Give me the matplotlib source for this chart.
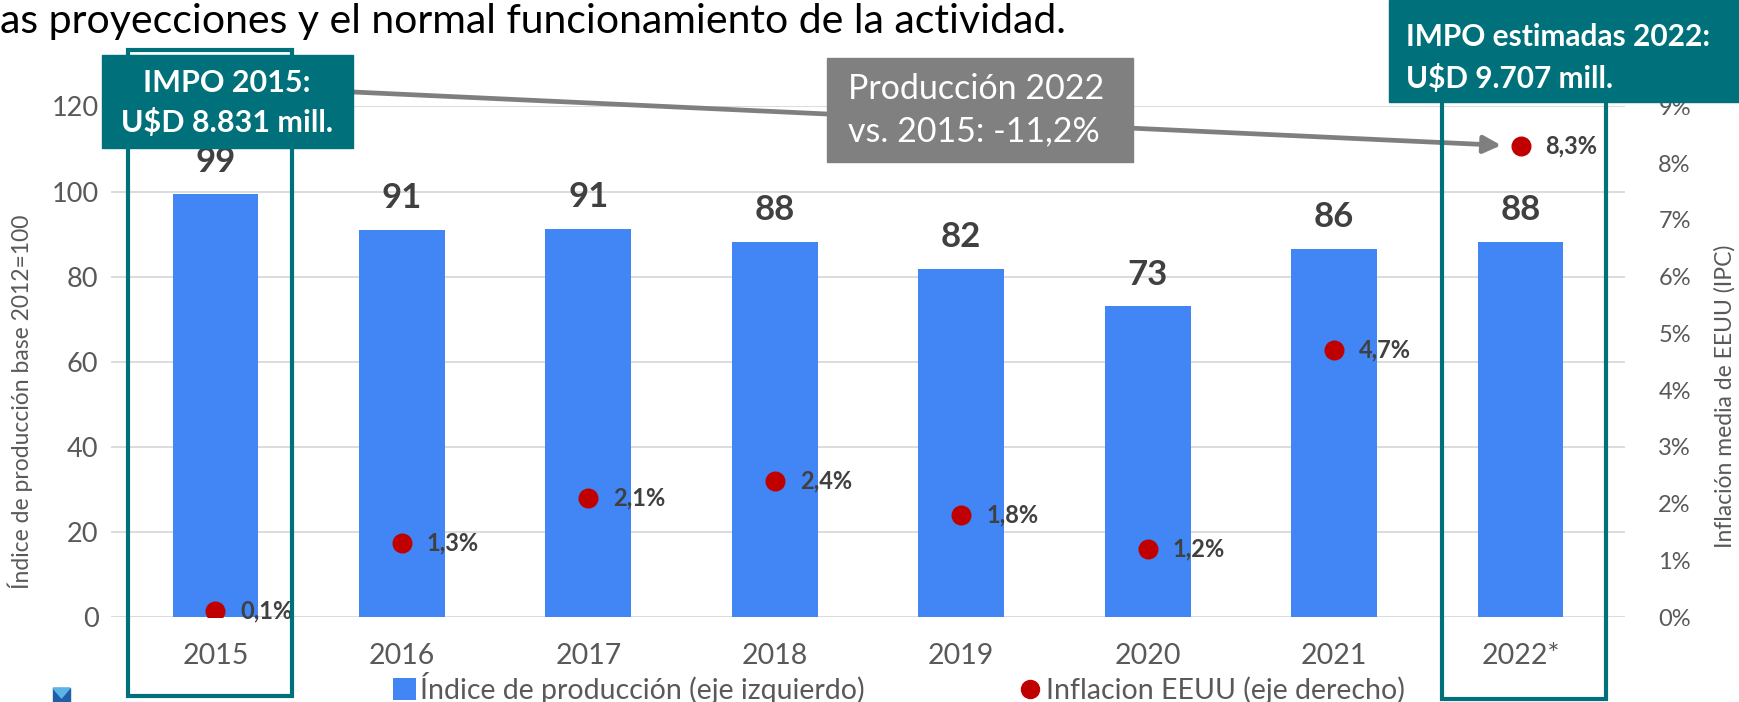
import matplotlib
matplotlib.use("Agg")
import matplotlib.pyplot as plt
import matplotlib.transforms as mtransforms
from matplotlib.patches import Rectangle, Polygon, Patch
from matplotlib.lines import Line2D

plt.rcParams['font.family'] = ['Lato', 'DejaVu Sans']

# --- data ---
years = ["2015", "2016", "2017", "2018", "2019", "2020", "2021", "2022*"]
produccion = [99.4, 91.0, 91.3, 88.2, 81.7, 73.0, 86.4, 88.2]
prod_labels = ["99", "91", "91", "88", "82", "73", "86", "88"]
inflacion = [0.1, 1.3, 2.1, 2.4, 1.8, 1.2, 4.7, 8.3]
infl_labels = ["0,1%", "1,3%", "2,1%", "2,4%", "1,8%", "1,2%", "4,7%", "8,3%"]
left_ticks = [0, 20, 40, 60, 80, 100, 120]
right_ticks = [0, 1, 2, 3, 4, 5, 6, 7, 8, 9]

BLUE = "#4285F4"
RED = "#C00000"
TEAL = "#00707A"
GRAY_TXT = "#595959"
DARK = "#404040"

W, H = 1739, 702
fig = plt.figure(figsize=(W / 100, H / 100), dpi=100)


def fx(px):
    return px / W


def fy(py):  # py measured from top
    return 1 - py / H


ax = fig.add_axes([fx(111), fy(617), fx(1625 - 111), (617 - 106.5) / H])
ax2 = ax.twinx()

x = list(range(len(years)))
bars = ax.bar(x, produccion, width=0.46, color=BLUE, zorder=2)
ax.set_xlim(-0.56, 7.56)
ax.set_ylim(0, 120)
ax.set_yticks(left_ticks)
ax.set_xticks(x)
ax.set_xticklabels(years)
ax.grid(axis='y', color='#d9d9d9', lw=1.3, zorder=0)
ax.set_axisbelow(True)
ax.tick_params(axis='x', length=0, pad=19, labelsize=20.5, labelcolor=GRAY_TXT)
ax.tick_params(axis='y', length=0, pad=9, labelsize=19.5, labelcolor=GRAY_TXT)
for s in ax.spines.values():
    s.set_visible(False)

for xi, v, lab in zip(x, produccion, prod_labels):
    ax.annotate(lab, (xi, v), xytext=(0, 23), textcoords='offset points',
                ha='center', va='center', fontsize=25, fontweight='bold', color=DARK)

ax2.set_ylim(0, 9)
ax2.set_yticks(right_ticks)
ax2.set_yticklabels([f"{t}%" for t in right_ticks])
ax2.tick_params(axis='y', length=0, pad=24, labelsize=17, labelcolor=GRAY_TXT)
for s in ax2.spines.values():
    s.set_visible(False)
ax2.scatter(x, inflacion, s=180, color=RED, zorder=3)
for xi, v, lab in zip(x, inflacion, infl_labels):
    ax2.annotate(lab, (xi, v), xytext=(18, 0), textcoords='offset points',
                 ha='left', va='center', fontsize=17, fontweight='bold', color=DARK)

# arrow from IMPO 2015 box to the 2022 point
ax2.annotate("", xy=(7, inflacion[-1]), xycoords='data',
             xytext=(353, H - 92), textcoords='figure pixels',
             arrowprops=dict(arrowstyle='-|>', lw=3.4, color='#7f7f7f',
                             mutation_scale=26, shrinkA=0, shrinkB=14),
             annotation_clip=False)

# axis titles
fig.text(fx(20), fy(402), "Índice de producción base 2012=100", rotation=90,
         ha='center', va='center', fontsize=16.5, color=GRAY_TXT)
fig.text(fx(1725), fy(396), "Inflación media de EEUU (IPC)", rotation=90,
         ha='center', va='center', fontsize=16.5, color=GRAY_TXT)

# teal frames around 2015 and 2022
blend = mtransforms.blended_transform_factory(ax.transData, fig.transFigure)
fig.patches.append(Rectangle((-0.47, fy(696)), 0.88, fy(50) - fy(696), transform=blend,
                             fill=False, edgecolor=TEAL, lw=3, zorder=3))
fig.patches.append(Rectangle((7 - 0.42, fy(699)), 0.88, fy(60) - fy(699), transform=blend,
                             fill=False, edgecolor=TEAL, lw=3, zorder=3))

# callout boxes
fig.patches.append(Rectangle((fx(102), fy(148)), fx(353 - 102), (148 - 55) / H,
                             transform=fig.transFigure, color=TEAL, zorder=4))
fig.text(fx(227), fy(83), "IMPO 2015:", ha='center', va='center', fontsize=22,
         fontweight='bold', color='white', zorder=5)
fig.text(fx(227), fy(123), "U$D 8.831 mill.", ha='center', va='center', fontsize=22,
         fontweight='bold', color='white', zorder=5)

fig.patches.append(Rectangle((fx(1389), fy(102)), fx(W - 1389), 102 / H,
                             transform=fig.transFigure, color=TEAL, zorder=4))
fig.text(fx(1406), fy(37), "IMPO estimadas 2022:", ha='left', va='center', fontsize=21.5,
         fontweight='bold', color='white', zorder=5)
fig.text(fx(1406), fy(78), "U$D 9.707 mill.", ha='left', va='center', fontsize=21.5,
         fontweight='bold', color='white', zorder=5)

fig.patches.append(Rectangle((fx(827), fy(162)), fx(1133 - 827), (162 - 58) / H,
                             transform=fig.transFigure, color='#808080', zorder=4))
fig.text(fx(848), fy(89), "Producción 2022", ha='left', va='center', fontsize=24.5,
         color='white', zorder=5)
fig.text(fx(848), fy(131), "vs. 2015: -11,2%", ha='left', va='center', fontsize=24.5,
         color='white', zorder=5)

# cut-off sentence at the top
fig.text(0, fy(22), "as proyecciones y el normal funcionamiento de la actividad.",
         ha='left', va='center', fontsize=29.5, color='black')

# legend
handles = [Patch(facecolor=BLUE, edgecolor='none'),
           Line2D([], [], marker='o', ls='none', color=RED, markersize=13)]
fig.legend(handles, ["Índice de producción (eje izquierdo)", "Inflacion EEUU (eje derecho)"],
           loc='center', bbox_to_anchor=(fx(899), fy(688)), ncol=2, frameon=False,
           fontsize=20.5, labelcolor=GRAY_TXT, handlelength=0.8, handleheight=0.8,
           handletextpad=0.15, columnspacing=5.4, borderaxespad=0, borderpad=0)

# corner logo fragment
fig.patches.append(Polygon([[fx(53), fy(688)], [fx(70), fy(688)], [fx(70), fy(702)], [fx(53), fy(702)]],
                           closed=True, transform=fig.transFigure, color='#1f5fa8', zorder=2))
fig.patches.append(Polygon([[fx(53), fy(688)], [fx(70), fy(688)], [fx(61.5), fy(698)]],
                           closed=True, transform=fig.transFigure, color='#5bb4e5', zorder=3))

fig.savefig("out.png", dpi=100)
